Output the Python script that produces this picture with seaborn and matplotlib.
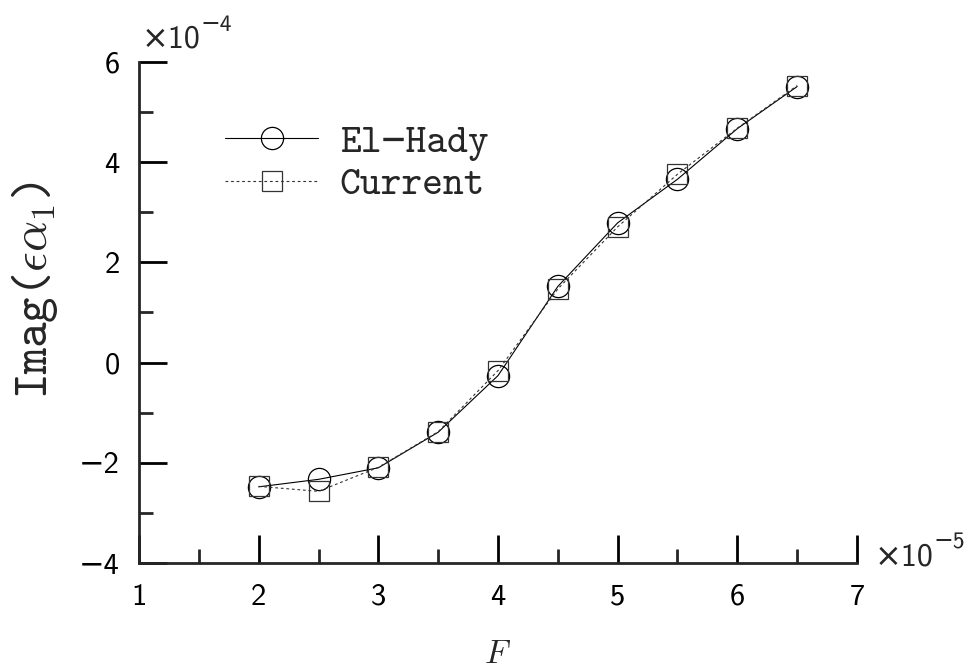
import numpy as np
import pandas as pd
import seaborn as sns
import matplotlib
matplotlib.use("Agg")
import matplotlib.pyplot as plt
from matplotlib.ticker import FuncFormatter, MultipleLocator

# Data (F in units of 1e-5, Imag(eps*alpha1) in units of 1e-4)
F = [2.0, 2.5, 3.0, 3.5, 4.0, 4.5, 5.0, 5.5, 6.0, 6.5]
el_hady = [-2.48, -2.33, -2.10, -1.39, -0.26, 1.52, 2.79, 3.66, 4.67, 5.51]
current = [-2.47, -2.57, -2.09, -1.38, -0.16, 1.47, 2.71, 3.76, 4.68, 5.53]
x_ticks = [1, 2, 3, 4, 5, 6, 7]
y_ticks = [-4, -2, 0, 2, 4, 6]
labels = ["El\u2212Hady", "Current"]

sns.set_style("ticks")
plt.rcParams["mathtext.fontset"] = "cm"
plt.rcParams["font.family"] = ["DejaVu Sans"]

SANS = ["cmss10", "DejaVu Sans"]
TT = ["cmtt10", "DejaVu Sans Mono"]

fig = plt.figure(figsize=(9.79, 6.71), dpi=100)
ax = fig.add_axes([139 / 979, 1 - 563 / 671, 718 / 979, 501 / 671])

sns.lineplot(x=F, y=el_hady, ax=ax, color="black", linewidth=0.8,
             marker="o", markersize=16, markerfacecolor="none",
             markeredgecolor="black", markeredgewidth=0.9, label=labels[0])
sns.lineplot(x=F, y=current, ax=ax, color="#333333", linewidth=0.8,
             linestyle=(0, (2.5, 2.5)),
             marker="s", markersize=14.5, markerfacecolor="none",
             markeredgecolor="#333333", markeredgewidth=0.9, label=labels[1])

ax.set_xlim(x_ticks[0], x_ticks[-1])
ax.set_ylim(y_ticks[0], y_ticks[-1])
ax.set_xticks(x_ticks)
ax.set_yticks(y_ticks)
ax.xaxis.set_minor_locator(MultipleLocator(0.5))
ax.yaxis.set_minor_locator(MultipleLocator(1))
fmt = FuncFormatter(lambda v, p: ("%d" % round(v)).replace("-", "\u2212"))
ax.xaxis.set_major_formatter(fmt)
ax.yaxis.set_major_formatter(fmt)

for s in ["top", "right"]:
    ax.spines[s].set_visible(False)
for s in ["left", "bottom"]:
    ax.spines[s].set_linewidth(2)
ax.tick_params(which="major", direction="in", length=20, width=2,
               labelsize=22, colors="black", labelfontfamily=SANS)
ax.tick_params(which="minor", direction="in", length=10, width=2)
ax.tick_params(axis="x", which="major", pad=15)
ax.tick_params(axis="y", which="major", pad=14)

t1 = ax.text(0.004, 1.028, "\u00d710", transform=ax.transAxes,
             ha="left", va="baseline", fontsize=23, family=SANS)
ax.annotate("\u22124", xy=(1.0, 0.62), xycoords=t1, ha="left", va="bottom",
            fontsize=17, family=SANS)
t2 = ax.text(1.025, -0.004, "\u00d710", transform=ax.transAxes,
             ha="left", va="baseline", fontsize=23, family=SANS)
ax.annotate("\u22125", xy=(1.0, 0.62), xycoords=t2, ha="left", va="bottom",
            fontsize=17, family=SANS)

ax.set_xlabel("")
ax.set_ylabel("")
ax.text(0.5, -0.2, r"$F$", transform=ax.transAxes, ha="center",
        va="baseline", fontsize=24)
ax.text(-0.145, 0.545, r"Imag($\epsilon\alpha_1$)", transform=ax.transAxes,
        ha="center", va="center", rotation=90, fontsize=35, family=TT)

leg = ax.legend(loc="center left", bbox_to_anchor=(0.1198, 0.797),
                frameon=False, prop={"family": TT, "size": 28.5},
                handlelength=2.35, handletextpad=0.55, labelspacing=0.15,
                borderpad=0, borderaxespad=0)

fig.savefig("out.png", dpi=100)
